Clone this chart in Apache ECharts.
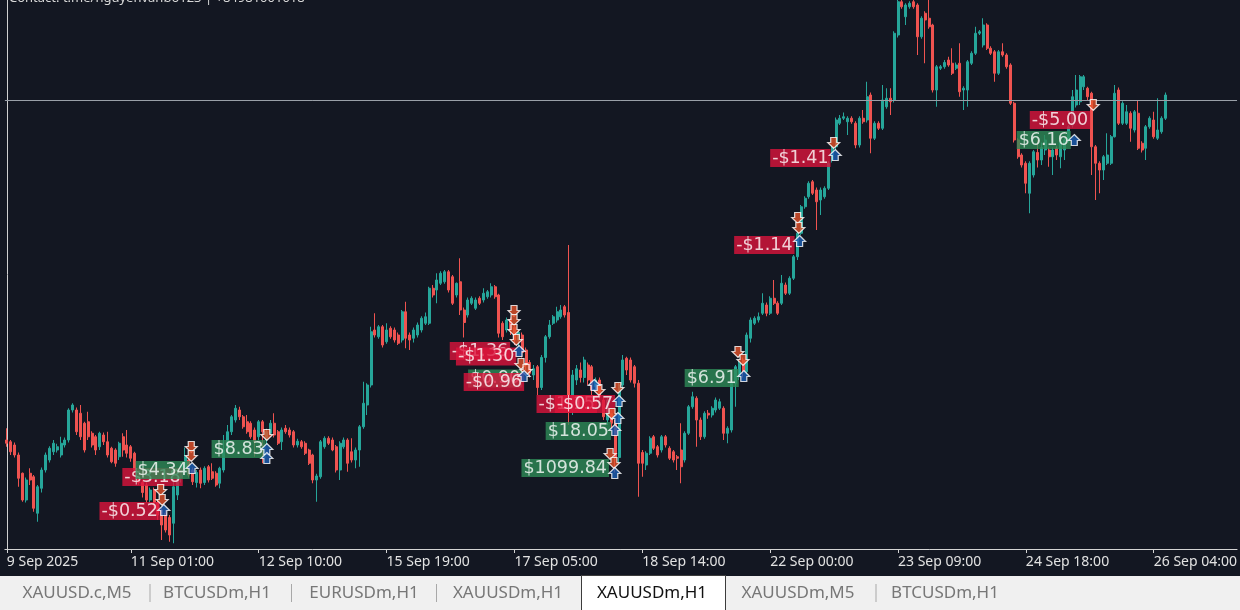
<!DOCTYPE html>
<html>
<head>
<meta charset="utf-8">
<script src="https://cdn.jsdelivr.net/npm/echarts@6/dist/echarts.min.js"></script>
<style>
html,body{margin:0;padding:0;background:#131722;}
#chart{width:1240px;height:610px;}
</style>
</head>
<body>
<div id="chart"></div>
<script>
// ---------- DATA ----------
const contactText = 'Contact: t.me/nguyenvanbo123 | +84981001018';

// XAUUSDm H1 candles: [open, close, low, high]
const ohlc = [
  [3624,3622.7,3621.3,3628.7],[3623.3,3619.3,3618,3624],[3622,3618,3617,3623],[3618,3608.7,3605.3,3619],[3610.7,3600,3599.3,3611],
  [3600,3608,3599,3609],[3610.7,3608,3606,3612.7],[3609.3,3596.7,3595.3,3610],[3594.7,3605.3,3591.3,3606],[3604.7,3612,3603,3613],
  [3612,3618,3611,3619],[3616,3620.7,3615,3621.5],[3619.3,3622.7,3618,3624],[3620,3621.3,3619,3622.5],[3618,3622.7,3617,3625.3],
  [3622,3624,3621,3625],[3624,3636,3623,3636.7],[3636,3638,3635,3638.7],[3636,3627.3,3626,3637],[3634.7,3625.3,3624,3638],
  [3630.7,3620,3619,3631.3],[3631.3,3625.3,3624,3635.3],[3626.7,3622,3621,3627.5],[3625.3,3620,3618,3626],[3621.3,3626.7,3620,3627.3],
  [3626,3623.3,3622,3627],[3623.3,3618,3617,3627.3],[3620.7,3615.3,3614.7,3621.3],[3620,3614.7,3613.3,3620.7],[3617.3,3622.7,3616,3623.3],
  [3625.3,3620,3617.3,3626.7],[3622,3618.7,3617,3628],[3621.3,3616.7,3615.3,3622],[3618.7,3612,3611,3619.3],[3612,3607,3606,3613],
  [3607,3603,3601,3608],[3606,3600,3599,3607],[3600,3604,3599,3605],[3604,3599,3597,3605],[3599,3594,3592,3600],
  [3596,3590,3584,3597],[3594.7,3588,3587,3596],[3593,3586,3583.3,3594],[3590.7,3605.3,3582.7,3612],[3602,3609.3,3600,3611],
  [3609,3614,3607,3615],[3613,3617.3,3611,3621],[3616,3610,3609,3617],[3612,3607.3,3606,3613],[3607,3611,3605,3612],
  [3612,3606.7,3604.7,3613],[3607,3612.7,3606,3613.5],[3613.3,3608,3607,3614],[3611.3,3608.7,3608,3614.7],[3610.7,3606,3605.3,3611.5],
  [3606.7,3612.7,3604.7,3613.3],[3612,3620,3611,3626],[3620,3627.3,3619,3630],[3627.3,3633.3,3626,3634],[3632,3636.7,3631,3638],
  [3636,3633.3,3632,3637.3],[3633.3,3629.3,3628.5,3634],[3631.3,3627.3,3626.5,3634],[3630.7,3625.3,3624.5,3631.5],[3628,3623.3,3617.3,3629],
  [3625.3,3631.3,3624,3632],[3631.3,3627.3,3614.7,3632],[3624,3627.3,3622,3628.5],[3626.7,3630.7,3626,3632],[3630.7,3626,3625,3634.7],
  [3627.3,3622.7,3622,3628],[3623.3,3628,3620,3629],[3628.7,3627.3,3626.5,3630],[3628,3626,3625,3629],[3627.3,3622,3621,3628],
  [3622,3623.5,3621,3624.5],[3623.3,3621.3,3620.5,3624],[3622.7,3618.7,3618,3623.5],[3620,3614.7,3614,3620.5],[3618,3608,3606.7,3618.5],
  [3608,3609.6,3599.3,3610.5],[3609.3,3623.3,3608.5,3624],[3621.3,3624.7,3620.5,3625.5],[3624.7,3622.7,3622,3625.5],[3624,3620,3619.5,3625],
  [3621.3,3612,3611,3622],[3612,3622.7,3608,3623.5],[3621.3,3624,3620.5,3625],[3624,3614.7,3611.3,3624.7],[3619.3,3616,3615,3624.7],
  [3616,3620,3612.7,3621],[3620,3629.3,3613.3,3630],[3629.3,3638.7,3628.5,3647.3],[3638,3646,3634,3646.7],[3646,3667.3,3645,3669.3],
  [3668,3666,3665,3674.7],[3665.3,3669.3,3664.5,3670],[3669.3,3662,3661,3670],[3663.3,3668,3662.5,3670.7],[3668.7,3665.3,3664.5,3669.5],
  [3668,3664,3663,3669],[3666,3662.7,3662,3667],[3664,3675.3,3663,3676],[3675.3,3664.7,3660.7,3679.3],[3666,3664,3660,3667],
  [3664.7,3668,3663,3669],[3666,3670,3665,3671],[3668,3672.7,3667,3673.5],[3670.7,3673.3,3670,3675],[3670.7,3684.7,3670,3685.3],
  [3684.7,3682,3681,3686],[3684,3688,3678.7,3690.7],[3686.7,3690.7,3686,3691.5],[3687.3,3691.3,3686.5,3692],[3691.3,3684,3683,3692],
  [3689.3,3678.7,3678,3690],[3682,3686.7,3681,3687],[3687.3,3676,3674,3696.7],[3676,3671,3665,3677],[3674,3680,3673,3681],
  [3678.7,3680.7,3678,3681.5],[3676.7,3680,3676,3681],[3680.7,3678.7,3678,3681.5],[3680,3682.7,3679,3684.7],[3681.3,3683.3,3680.5,3684],
  [3682,3685.3,3681,3686.7],[3685.3,3681.3,3680.5,3686],[3682,3666.7,3665,3682.5],[3670.7,3665.3,3664,3671.5],[3668,3672,3667,3673],
  [3672,3668,3666,3673],[3669,3664,3662,3670],[3664,3667,3661,3668],[3666,3659,3657,3667],[3660,3654,3652,3661],
  [3655,3650.7,3649,3656],[3650,3652.5,3648,3654],[3653.3,3645,3642,3654],[3645,3657,3644,3658],[3657,3665.3,3655,3666],
  [3665.3,3670,3664.5,3672],[3670.7,3673.3,3670,3674],[3672,3675.3,3671,3677.3],[3673.3,3676,3672.5,3678],[3677.3,3674,3673,3678],
  [3675,3636,3630,3702],[3636,3650,3634,3652],[3648,3652.5,3646,3654],[3652,3649,3647,3655],[3649,3656,3647,3657.3],
  [3654,3648,3646,3655],[3653.3,3644,3642,3654],[3645.3,3648,3644,3649],[3648,3641.3,3640,3649],[3640,3633.3,3632,3641],
  [3632,3640,3630,3641],[3634.7,3630.7,3628,3636],[3630.7,3617,3611,3632],[3617,3646,3615,3647],[3646,3656,3645,3658],
  [3656.7,3652,3650,3657.3],[3656,3648,3647,3657],[3653.3,3646.7,3645,3654],[3646.7,3614.7,3601.3,3648],[3619,3614.7,3609.3,3620],
  [3614,3618.7,3612,3619.5],[3618.7,3624.7,3618,3625.5],[3625.3,3620.7,3620,3626],[3621.3,3618,3617,3622],[3620,3625.3,3619,3626],
  [3625.3,3622,3621,3626],[3620.7,3616.7,3616,3621.5],[3619.3,3616,3615,3620],[3617.3,3616.7,3612,3618],[3620,3613.3,3606.7,3630.7],
  [3616,3626.7,3615,3627.5],[3626.7,3637.3,3626,3638],[3637.3,3641.3,3636.5,3643.3],[3640.7,3632,3621.3,3641.5],[3632,3625.3,3624,3633],
  [3625.3,3634.7,3624.5,3635.5],[3634.7,3634,3632.5,3636],[3634,3636.7,3633,3637.5],[3636,3640,3635,3641],[3636.7,3639.3,3636,3640.5],
  [3636.7,3626.7,3624,3637.5],[3626.7,3628.7,3622.7,3629.5],[3628,3646.7,3627,3647.5],[3646.7,3653.3,3637.3,3654],[3649.3,3654.7,3648,3656],
  [3656,3651.3,3649,3657],[3651.3,3666,3650,3667],[3664.7,3672,3663,3673],[3670.7,3672.7,3670,3673.5],[3672,3673.3,3671,3675],
  [3674.7,3678.7,3674,3682.7],[3678,3674.7,3673.5,3679],[3674.7,3680.7,3674,3681.5],[3680.7,3678.7,3678,3688],[3678.7,3674.7,3674,3679.5],
  [3678.7,3686.7,3678,3690],[3686,3682.7,3682,3687],[3682.7,3688.7,3682,3689.5],[3688.7,3697.3,3688,3698],[3697.3,3706.7,3696,3707.5],
  [3706.7,3717.3,3706,3718],[3717.3,3720.7,3716.5,3721.5],[3721.3,3726.7,3720.5,3727.5],[3727.3,3722.7,3722,3728],[3724,3719.3,3708,3725],
  [3720,3724,3714,3725],[3721.3,3724.7,3720.5,3725.5],[3724.7,3734.7,3724,3735.5],[3736,3741.3,3735,3742],[3741.3,3752,3740,3753],
  [3750.7,3752.7,3750,3754],[3752.7,3753.3,3752,3755],[3751.3,3752.7,3746,3753.5],[3752.7,3751.3,3750.5,3753.5],[3750.7,3742,3740.7,3751.5],
  [3742,3752.7,3741,3753.5],[3752.7,3751.3,3750.5,3756],[3752,3761.3,3751,3767.3],[3762,3744.7,3738.7,3763],[3744.7,3750.7,3744,3751.5],
  [3750.7,3748.7,3748,3751.5],[3748.7,3760,3748,3766],[3757.3,3760.7,3756.5,3764.7],[3760.7,3759.3,3754,3764.7],[3760,3786.7,3759,3787.5],
  [3786,3799.3,3785,3800],[3799.3,3797.3,3796.5,3800],[3793.3,3798,3790,3798.7],[3797.3,3798.7,3796.5,3799.5],[3799.3,3797.3,3796.5,3800],
  [3798,3785.3,3778,3798.7],[3785.3,3792.7,3784.5,3793.5],[3794.7,3792,3774.7,3795.5],[3792.7,3789.3,3788.5,3800],[3790,3764,3763,3790.5],
  [3764,3773.3,3757.3,3774],[3772.7,3773.3,3772,3774],[3773.3,3775,3772.5,3776],[3776,3774,3773.3,3777.3],[3774.7,3770.7,3770,3780.7],
  [3772.7,3774,3772,3775],[3774.7,3763.3,3761.3,3782.7],[3764,3764.7,3756,3765.5],[3764,3775.3,3757.3,3776],[3774.7,3778.7,3774,3779.5],
  [3778.7,3786.7,3778,3789.3],[3786.7,3787.3,3786,3788],[3782,3790,3781,3792.7],[3790,3780.7,3780,3790.7],[3780.7,3778.7,3778,3781.5],
  [3779.3,3770.7,3767.3,3780],[3770.7,3779.3,3770,3780],[3779.3,3778,3777.3,3782.7],[3778,3773.3,3772.5,3778.7],[3774,3758.7,3758,3774.7],
  [3758.7,3744,3743,3759.3],[3744,3737.3,3736.5,3744.7],[3738,3734,3733,3738.7],[3734.7,3726.7,3722.7,3735.5],[3722.7,3734.7,3714.7,3735.5],
  [3730,3739.3,3729,3740],[3739,3736,3733,3744],[3736,3741,3734,3743],[3740,3744,3738,3746],[3740,3737.3,3733.3,3741],
  [3737.3,3740,3730,3741],[3740.7,3738,3736,3741.5],[3737.3,3743.3,3732.7,3744],[3740,3744,3736,3745],[3744,3749.3,3743,3750],
  [3750,3761.3,3749,3764],[3758,3764,3757,3770],[3759.3,3769.3,3758,3770],[3765.3,3769.3,3764,3770],[3764.7,3761.3,3760,3765.3],
  [3762.7,3741.3,3730,3763.3],[3741.3,3734.7,3720,3742],[3734.7,3732,3722.7,3735.5],[3732,3737.3,3728,3738],[3734.7,3738,3734,3746.7],
  [3734.7,3745.3,3734,3746],[3745.3,3762.7,3745,3766],[3764,3750.7,3750,3765],[3750.7,3758.7,3750,3759.5],[3750.7,3755.3,3750,3758],
  [3754.7,3748.7,3743.3,3755.5],[3748,3755.3,3747,3756],[3754.7,3740.7,3740,3760],[3742.7,3740,3739,3743.5],[3740.7,3749.3,3736,3750],
  [3749.3,3752.7,3748.5,3753.5],[3752,3745.3,3744.5,3755.3],[3744.7,3748,3744,3760.7],[3747.3,3752.7,3746.5,3753.5],[3752.7,3762,3752,3763]
];

// Time-axis tick labels: [bar index, label]
const tickLabels = [
  [0,'9 Sep 2025'],[32,'11 Sep 01:00'],[65,'12 Sep 10:00'],[98,'15 Sep 19:00'],[131,'17 Sep 05:00'],
  [164,'18 Sep 14:00'],[197,'22 Sep 00:00'],[230,'23 Sep 09:00'],[263,'24 Sep 18:00'],[296,'26 Sep 04:00']
];

// Horizontal price line
const priceLine = 3760;

// Trade arrows: [bar position, price]
const sellArrows = [
  [47.6,3621.2],[47.6,3617.6],[39.7,3604],[40.1,3600],[67.1,3626],[130.9,3675.6],[130.9,3672],[130.9,3668],
  [131.5,3664],[132.7,3654.4],[134,3652],[152.8,3644],[157.7,3644.8],[156.2,3634.4],[155.7,3618.4],[156.7,3614.8],
  [188.7,3659.2],[190,3656],[204.1,3712.8],[204.4,3708.8],[213.4,3742.8],[280.4,3758]
];
const buyArrows = [
  [47.8,3612.8],[40.5,3596],[67.1,3620.4],[67.1,3616.8],[132.2,3659.6],[133.5,3649.6],[151.6,3646],[158,3639.6],
  [157.7,3632.8],[156.9,3628],[156.9,3610.8],[190.2,3649.6],[204.6,3703.6],[213.8,3738],[275.5,3744]
];

// Trade result labels: [bar position of right edge, price, text, profit?]
const tradeLabels = [
  [45.4,3609.2,'-$3.18',false],[47.2,3612,'$4.34',true],[39.5,3595.6,'-$0.52',false],[66.8,3620.4,'$8.83',true],
  [129.9,3659.6,'-$1.36',false],[131.5,3657.4,'-$1.30',false],[133,3648.6,'$0.90',true],[133.5,3647.2,'-$0.96',false],
  [152.3,3638.4,'-$1.15',false],[157,3638.4,'-$0.57',false],[155.9,3627.6,'$18.05',true],[155.4,3612.8,'$1099.84',true],
  [188.9,3648.8,'$6.91',true],[203.3,3702,'-$1.14',false],[212.6,3736.8,'-$1.41',false],
  [274.6,3744,'$6.16',true],[279.6,3752,'-$5.00',false]
];

// Bottom tabs
const tabs = ['XAUUSD.c,M5','BTCUSDm,H1','EURUSDm,H1','XAUUSDm,H1','XAUUSDm,H1','XAUUSDm,M5','BTCUSDm,H1'];
const activeTab = 4;

// ---------- LAYOUT ----------
const SLOTS = 318;
const tabCenters = [77, 217, 364, 508, 652, 798, 945];
const tabSeparators = [150, 291.5, 436.5, 876];

const categories = Array.from({length: SLOTS}, (_, i) => String(i));
const tickMap = new Map(tickLabels);
const showTick = (i) => tickMap.has(i);

const downPath = 'path://M2.5,0 L7.5,0 L7.5,4.5 L10,4.5 L5,10 L0,4.5 L2.5,4.5 Z';
const upPath = 'path://M5,0 L10,5.5 L7.5,5.5 L7.5,10 L2.5,10 L2.5,5.5 L0,5.5 Z';

const graphic = [
  {type:'text', x:9, y:-1.5, style:{text:contactText, fill:'#d8d8d8', font:'13px "Noto Sans"', verticalAlign:'middle'}},
  {type:'rect', shape:{x:0, y:576, width:1240, height:34}, style:{fill:'#f0f0f0'}},
  {type:'rect', shape:{x:581.5, y:575.5, width:144, height:36}, style:{fill:'#ffffff', stroke:'#3c3c3c', lineWidth:1}, z:10}
];
tabSeparators.forEach(x => graphic.push({type:'line', shape:{x1:x, y1:584, x2:x, y2:602}, style:{stroke:'#a8a8a8', lineWidth:1}, z:10}));
tabs.forEach((t, k) => graphic.push({
  type:'text', x:tabCenters[k], y:593, z:11,
  style:{text:t, align:'center', verticalAlign:'middle', font:'17px "Noto Sans"', fill: k === activeTab ? '#111111' : '#777777'}
}));

const chart = echarts.init(document.getElementById('chart'), null, {renderer:'canvas'});
chart.setOption({
  animation:false,
  backgroundColor:'#131722',
  grid:{left:4.9, right:0.9, top:0, bottom:61},
  xAxis:[
    {
      type:'category', data:categories, boundaryGap:true,
      axisLine:{show:true, lineStyle:{color:'#d4d4d4', width:1}},
      axisTick:{show:true, alignWithLabel:true, length:4, interval:showTick, lineStyle:{color:'#d4d4d4'}},
      axisLabel:{
        interval:showTick, align:'left', margin:6,
        formatter:(v) => tickMap.get(Number(v)) || '',
        color:'#e2e2e2', fontSize:14, fontFamily:'Noto Sans'
      },
      splitLine:{show:false}
    },
    {type:'value', min:-0.5, max:SLOTS - 0.5, show:false}
  ],
  yAxis:{
    type:'value', min:3580.4, max:3800, position:'left', offset:2,
    axisLine:{show:true, lineStyle:{color:'#d0d0d0'}},
    axisTick:{show:false}, axisLabel:{show:false}, splitLine:{show:false}
  },
  graphic: graphic,
  series:[
    {
      type:'candlestick', xAxisIndex:0, data:ohlc, barWidth:2.5,
      itemStyle:{color:'#26a69a', color0:'#ef5350', borderColor:'#26a69a', borderColor0:'#ef5350', borderWidth:1},
      markLine:{
        silent:true, symbol:['none','none'], label:{show:false},
        lineStyle:{color:'#9aa0a8', width:1, type:'solid'},
        data:[{yAxis:priceLine}]
      }
    },
    {
      type:'scatter', xAxisIndex:1, z:5, symbolSize:0,
      data: tradeLabels.map(([x, p, t, win]) => ({
        value:[x, p], name:t,
        label:{backgroundColor: win ? '#2e8b57' : '#dc143c'}
      })),
      label:{
        show:true, position:'left', distance:0,
        formatter:(p) => p.name,
        color:'#ffffff', fontFamily:'DejaVu Sans', fontSize:17.5, lineHeight:17, padding:[1,2,0,2]
      }
    },
    {
      type:'scatter', xAxisIndex:1, z:6, symbol:downPath, symbolSize:[12,11],
      itemStyle:{color:'#e5532a', borderColor:'#ffffff', borderWidth:1.2},
      data:sellArrows
    },
    {
      type:'scatter', xAxisIndex:1, z:6, symbol:upPath, symbolSize:[12,11],
      itemStyle:{color:'#1b5fb5', borderColor:'#ffffff', borderWidth:1.2},
      data:buyArrows
    }
  ]
});
</script>
</body>
</html>
